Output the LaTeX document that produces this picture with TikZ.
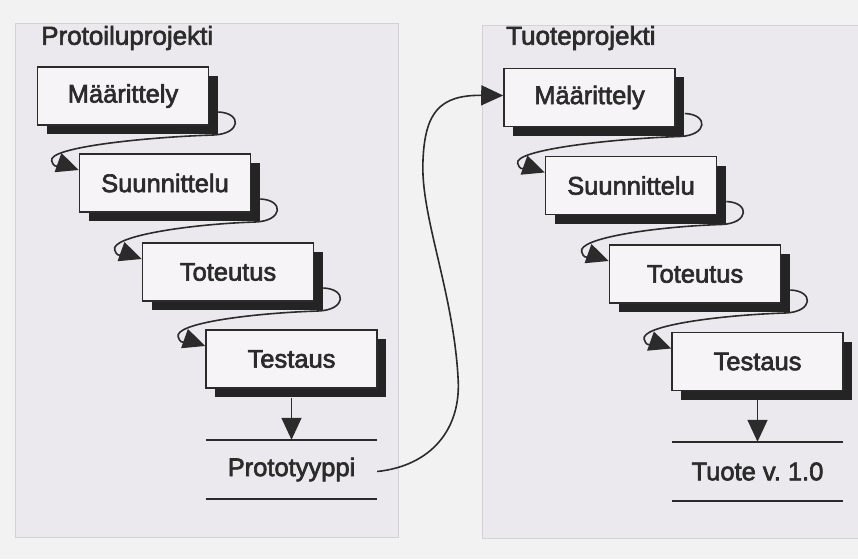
\documentclass[tikz,border=0pt]{standalone}
\usepackage{fontspec}
\newfontfamily\diagfont[FakeBold=2.5]{Liberation Sans}
\usetikzlibrary{arrows.meta,calc,shadows}
\definecolor{pagebg}{HTML}{F2F2F2}
\definecolor{panelfill}{HTML}{EBE9ED}
\definecolor{panelline}{HTML}{D2D1D6}
\definecolor{boxfill}{HTML}{F6F4F6}
\definecolor{ink}{HTML}{2B2B2B}
\definecolor{shade}{HTML}{242424}

\tikzset{
  panel/.style={fill=panelfill, draw=panelline, line width=0.8pt},
  title/.style={anchor=west, inner sep=0pt, text=ink, font=\diagfont\fontsize{26}{30}\selectfont},
  phase/.style={draw=ink, line width=1.6pt, fill=boxfill, minimum width=171pt,
    minimum height=58pt, inner sep=0pt, text=ink, font=\diagfont\fontsize{25.5}{30}\selectfont,
    drop shadow={shadow xshift=9pt, shadow yshift=-9pt, fill=shade, opacity=1}},
  result/.style={minimum width=171pt, minimum height=59pt, inner sep=0pt, text=ink,
    font=\diagfont\fontsize{25.5}{30}\selectfont},
  rule/.style={draw=ink, line width=2pt},
  conn/.style={draw=ink, line width=1.6pt, -{Triangle[length=22pt,width=20pt]}},
}

% curly hand-over arrow from one phase to the next
\newcommand\phaseloop[2]{%
  \draw[conn] ($(#1.east)+(9,16)$)
    .. controls ($(#1.east)+(33,17)$) and ($(#1.east)+(32,38)$) .. ($(#1.east)+(4,39)$)
    .. controls ($(#1.east)+(-60,41)$) and ($(#2.west)+(-32,-36)$) .. ($(#2.west)+(-27,-22)$)
    .. controls ($(#2.west)+(-24,-12)$) and ($(#2.west)+(-14,-18)$) .. ($(#2.west)+(0,-13)$);}

\begin{document}
\begin{tikzpicture}[x=1pt,y=-1pt]
  \fill[pagebg] (0,0) rectangle (858,559);
  \useasboundingbox (0,0) rectangle (858,559);

  % the two project panels
  \path[panel] (15,23) rectangle (398,537);
  \path[panel] (482,25) rectangle (870,538);

  \node[title] (tl) at (41,38) {Protoiluprojekti};
  \node[title] (tr) at (506,38) {Tuoteprojekti};

  % prototyping project
  \node[phase] (l1) at (123,96)    {Määrittely};
  \node[phase] (l2) at (165,183)   {Suunnittelu};
  \node[phase] (l3) at (228,272)   {Toteutus};
  \node[phase] (l4) at (291.5,359) {Testaus};
  \node[result] (lp) at (291.5,469.5) {Prototyyppi};
  \draw[rule] (lp.north west) -- (lp.north east);
  \draw[rule] (lp.south west) -- (lp.south east);

  % product project
  \node[phase] (r1) at (589.5,97.5) {Määrittely};
  \node[phase] (r2) at (631,185.5)  {Suunnittelu};
  \node[phase] (r3) at (695,274)    {Toteutus};
  \node[phase] (r4) at (757.5,361.5){Testaus};
  \node[result] (rp) at (757.5,471.5) {Tuote v.\ 1.0};
  \draw[rule] (rp.north west) -- (rp.north east);
  \draw[rule] (rp.south west) -- (rp.south east);

  \phaseloop{l1}{l2}
  \phaseloop{l2}{l3}
  \phaseloop{l3}{l4}
  \phaseloop{r1}{r2}
  \phaseloop{r2}{r3}
  \phaseloop{r3}{r4}

  \draw[conn] ($(l4.south)+(0,9)$) -- (lp.north);
  \draw[conn] ($(r4.south)+(0,9)$) -- (rp.north);

  % the prototype starts the product project
  \draw[conn] ($(lp.east)+(0,2)$)
    .. controls (430,466) and (462,430) .. (458,377)
    .. controls (453,290) and (420,215) .. (423,160)
    .. controls (425,112) and (440,95) .. ($(r1.west)+(0,-2)$);
\end{tikzpicture}
\end{document}
